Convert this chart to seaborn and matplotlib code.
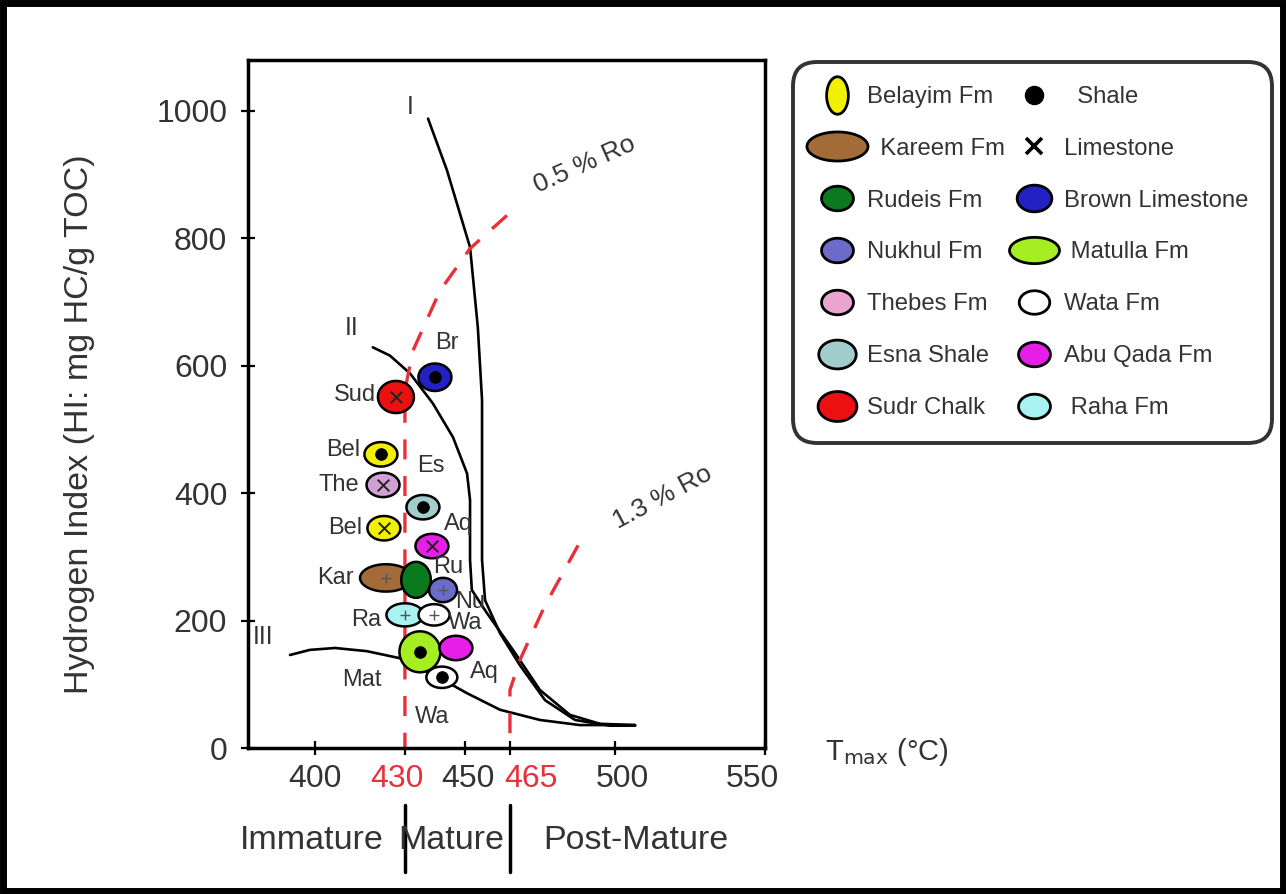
import numpy as np
import pandas as pd
import matplotlib
matplotlib.use("Agg")
import matplotlib.pyplot as plt
from matplotlib.path import Path
from matplotlib.lines import Line2D
from matplotlib.patches import Rectangle
import seaborn as sns

sns.set_theme(style="white")
plt.rcParams['font.family'] = ['Liberation Sans', 'DejaVu Sans']

# ---------------- data ----------------
labels = ["Br", "Sud", "Bel", "The", "Es", "Bel", "Aq", "Kar", "Ru", "Nu", "Ra", "Wa", "Mat", "Aq", "Wa"]
formations = ["Brown Limestone", "Sudr Chalk", "Belayim Fm", "Thebes Fm", "Esna Shale", "Belayim Fm",
              "Abu Qada Fm", "Kareem Fm", "Rudeis Fm", "Nukhul Fm", "Raha Fm", "Wata Fm",
              "Matulla Fm", "Abu Qada Fm", "Wata Fm"]
tmax = [440, 427, 422, 422.7, 436, 423, 439, 423.7, 433.7, 442.7, 430, 439.7, 435, 447, 442.3]
hi = [582, 551, 461, 413, 378, 345, 317, 267, 264, 248, 209, 209, 151, 157, 111]
lithology = ["Shale", "Limestone", "Shale", "Limestone", "Shale", "Limestone", "Limestone",
             "Mixed", "None", "Mixed", "Mixed", "Mixed", "Shale", "None", "Shale"]

# kerogen type curves
type1_t = [437.7, 444, 451.7, 454.3, 455.7, 455.7, 456.7, 461.7, 468.3, 476.7, 486.7, 498.3, 506.7]
type1_hi = [988, 907, 786, 660, 546, 295, 232, 180, 130, 75, 44, 35, 35]
type2_t = [419.3, 425, 431.7, 439.3, 446, 450.7, 451.7, 451.7, 452.3, 457.3, 466, 475, 485, 495, 506.7]
type2_hi = [629, 616, 588, 541, 488, 431, 389, 295, 248, 212, 154, 91, 52, 38, 36]
type3_t = [391.7, 398.3, 406.7, 417.3, 428.3, 442.7, 450.7, 461.7, 475, 488.3, 506.7]
type3_hi = [146, 154, 157, 152, 141, 107, 86, 60, 44, 36, 36]

# vitrinite reflectance iso-lines
ro05_t = [464, 451.7, 441.7, 432.7, 430, 430]
ro05_hi = [836, 784, 718, 624, 562, 0]
ro13_t = [487.7, 476.7, 468.3, 465, 465]
ro13_hi = [318, 224, 138, 91, 0]

x_ticks = [400, 430, 450, 465, 500, 550]
y_ticks = [0, 200, 400, 600, 800, 1000]
zone_bounds = [430, 465]
zone_names = ["Immature", "Mature", "Post-Mature"]

# ---------------- style ----------------
colors = {
    "Belayim Fm": "#f2f000", "Kareem Fm": "#a36b38", "Rudeis Fm": "#0b7a1e",
    "Nukhul Fm": "#6b6bc9", "Thebes Fm": "#eba3cf", "Esna Shale": "#a3cccc",
    "Sudr Chalk": "#ec1010", "Brown Limestone": "#2222c4", "Matulla Fm": "#a4ee22",
    "Wata Fm": "#ffffff", "Abu Qada Fm": "#e61ee6", "Raha Fm": "#a8f2f2",
}
plot_colors = dict(colors)
plot_colors["Thebes Fm"] = "#d0a0d4"


def ellipse(rx, ry=1.0):
    th = np.linspace(0, 2 * np.pi, 60)
    v = np.column_stack([rx * np.cos(th), ry * np.sin(th)])
    return Path(v, closed=True)


# marker aspect (width/height) and max extent in pixels per formation
aspect = {f: 1.35 for f in colors}
aspect.update({"Kareem Fm": 1.9, "Matulla Fm": 1.0, "Rudeis Fm": 0.82, "Raha Fm": 1.6,
               "Wata Fm": 1.45, "Nukhul Fm": 1.15, "Brown Limestone": 1.2, "Sudr Chalk": 1.12})
extent_px = {f: 33 for f in colors}
extent_px.update({"Kareem Fm": 52, "Matulla Fm": 41, "Rudeis Fm": 36, "Raha Fm": 37,
                  "Wata Fm": 31, "Nukhul Fm": 28, "Sudr Chalk": 36})

markers = {f: ellipse(aspect[f]) for f in colors}
sizes = {f: (extent_px[f] * 0.72) ** 2 for f in colors}

df = pd.DataFrame({"label": labels, "formation": formations, "tmax": tmax, "hi": hi,
                   "lith": lithology})

W, H = 1286, 894
fig = plt.figure(figsize=(W / 100, H / 100), dpi=100)
ax = fig.add_axes([248 / W, 1 - 748 / H, (765 - 248) / W, (748 - 60) / H])

# curves
for t, h in [(type1_t, type1_hi), (type2_t, type2_hi), (type3_t, type3_hi)]:
    sns.lineplot(x=t, y=h, ax=ax, color="black", lw=1.9, sort=False, estimator=None)
for t, h in [(ro05_t, ro05_hi), (ro13_t, ro13_hi)]:
    sns.lineplot(x=t, y=h, ax=ax, color="#e8303a", lw=2.4, sort=False, estimator=None,
                 dashes=False, linestyle=(0, (6, 5)))

# points
sns.scatterplot(data=df, x="tmax", y="hi", hue="formation", palette=plot_colors,
                style="formation", markers=markers, size="formation", sizes=sizes,
                edgecolor="black", linewidth=1.8, legend=False, ax=ax, zorder=3)
sh = df[df.lith == "Shale"]
sns.scatterplot(data=sh, x="tmax", y="hi", color="black", s=70, marker="o",
                edgecolor="black", legend=False, ax=ax, zorder=4)
ls = df[df.lith == "Limestone"]
sns.scatterplot(data=ls, x="tmax", y="hi", color="#222222", s=70, marker="x",
                linewidth=1.4, legend=False, ax=ax, zorder=4)
mx = df[df.lith == "Mixed"]
sns.scatterplot(data=mx, x="tmax", y="hi", color="#555555", s=55, marker="+",
                linewidth=1.0, legend=False, ax=ax, zorder=4)

# point labels (pixel offsets, ha)
offsets = [(0, 34, "left"), (-20, 2, "right"), (-21, 4, "right"), (-24, 0, "right"),
           (8, 41, "center"), (-22, 0, "right"), (12, 22, "left"), (-32, 0, "right"),
           (17, 13, "left"), (12, -12, "left"), (-24, -5, "right"), (14, -8, "left"),
           (-38, -28, "right"), (14, -24, "left"), (-10, -40, "center")]
for (_, r), (dx, dy, ha) in zip(df.iterrows(), offsets):
    ax.annotate(r["label"], (r["tmax"], r["hi"]), xytext=(dx, dy), textcoords="offset pixels",
                ha=ha, va="center", fontsize=17, color="#333333", zorder=5)

# curve labels
ax.text(type1_t[0] - 6, type1_hi[0] + 18, "I", fontsize=18, color="#333333", ha="center", va="center")
ax.text(type2_t[0] - 7, type2_hi[0] + 30, "II", fontsize=18, color="#333333", ha="center", va="center")
ax.text(type3_t[0] - 9, type3_hi[0] + 28, "III", fontsize=18, color="#333333", ha="center", va="center")
ax.text(ro05_t[0] + 26, ro05_hi[0] + 80, "0.5 % Ro", fontsize=19, color="#333333", rotation=24,
        ha="center", va="center")
ax.text(ro13_t[0] + 28, ro13_hi[0] + 76, "1.3 % Ro", fontsize=19, color="#333333", rotation=28,
        ha="center", va="center")

ax.set_xlim(377.7, 550)
ax.set_ylim(0, 1080)
ax.set_xticks(x_ticks)
ax.set_yticks(y_ticks)
ax.set_xticklabels([])
ax.set_yticklabels([str(v) for v in y_ticks], fontsize=23, color="#333333")
trans = ax.get_xaxis_transform()
label_shift = {430: -8, 450: 3, 465: 21, 500: 7, 550: -13}
for v in x_ticks:
    ax.annotate(str(v), xy=(v, 0), xycoords=trans, xytext=(label_shift.get(v, 0), -31),
                textcoords="offset pixels", ha="center", va="center", fontsize=23,
                color="#e8303a" if v in zone_bounds else "#333333", annotation_clip=False)
ax.tick_params(axis="both", direction="inout", length=10, width=1.6, color="black",
               bottom=True, left=True)
ax.tick_params(axis="y", pad=10)
ax.set_xlabel("")
ax.set_ylabel("Hydrogen Index (HI: mg HC/g TOC)", fontsize=24.5, color="#333333")
ax.yaxis.set_label_coords(-0.296, 0.47)
for s in ax.spines.values():
    s.set_color("black")
    s.set_linewidth(2.5)
ax.set_facecolor("white")

fig.text(825 / W, 1 - 752 / H, r"T$_{\rm max}$ (°C)", fontsize=21, color="#333333",
         ha="left", va="center")

# maturity zones
for b in zone_bounds:
    ax.plot([b, b], [-0.083, -0.18], transform=trans, color="black", lw=2.5, clip_on=False)
zone_x = [zone_bounds[0] - 31, (zone_bounds[0] + zone_bounds[1]) / 2 - 2, zone_bounds[1] + 42]
for zx, zn in zip(zone_x, zone_names):
    ax.text(zx, -0.135, zn, transform=trans, fontsize=24.5, color="#333333", ha="center",
            va="center", clip_on=False)


# legend
def h(f, marker, ms, text=None):
    return Line2D([], [], linestyle="none", marker=marker, markersize=ms,
                  markerfacecolor=colors[f], markeredgecolor="black", markeredgewidth=2.0,
                  label=text if text else f)


circ = ellipse(1.3)
left_col = [h("Belayim Fm", ellipse(0.58), 27), h("Kareem Fm", ellipse(2.1), 44, "  Kareem Fm"),
            h("Rudeis Fm", circ, 23), h("Nukhul Fm", circ, 23), h("Thebes Fm", circ, 23),
            h("Esna Shale", circ, 27), h("Sudr Chalk", circ, 28)]
right_col = [Line2D([], [], linestyle="none", marker="o", markersize=13, color="black", label="  Shale"),
             Line2D([], [], linestyle="none", marker="x", markersize=11, color="black",
                    markeredgewidth=2.6, label="Limestone"),
             h("Brown Limestone", circ, 25), h("Matulla Fm", ellipse(1.9), 36, " Matulla Fm"),
             h("Wata Fm", circ, 22), h("Abu Qada Fm", circ, 23), h("Raha Fm", circ, 23, " Raha Fm")]
leg = fig.legend(handles=left_col + right_col, ncol=2, loc="upper left",
                 bbox_to_anchor=(793 / W, 1 - 62 / H), fontsize=17.2, frameon=True, fancybox=True,
                 labelspacing=1.25, handletextpad=0.4, columnspacing=0.35, borderpad=1.0,
                 handlelength=1.7, borderaxespad=0)
fr = leg.get_frame()
fr.set_edgecolor("black")
fr.set_linewidth(2.8)
fr.set_boxstyle("round,pad=0.0,rounding_size=1.0")
for t in leg.get_texts():
    t.set_color("#333333")

# outer frame
fig.patches.append(Rectangle((0.002, 0.003), 0.996, 0.994, transform=fig.transFigure,
                             fill=False, edgecolor="black", linewidth=5))

fig.savefig("out.png", dpi=100, facecolor="white")
